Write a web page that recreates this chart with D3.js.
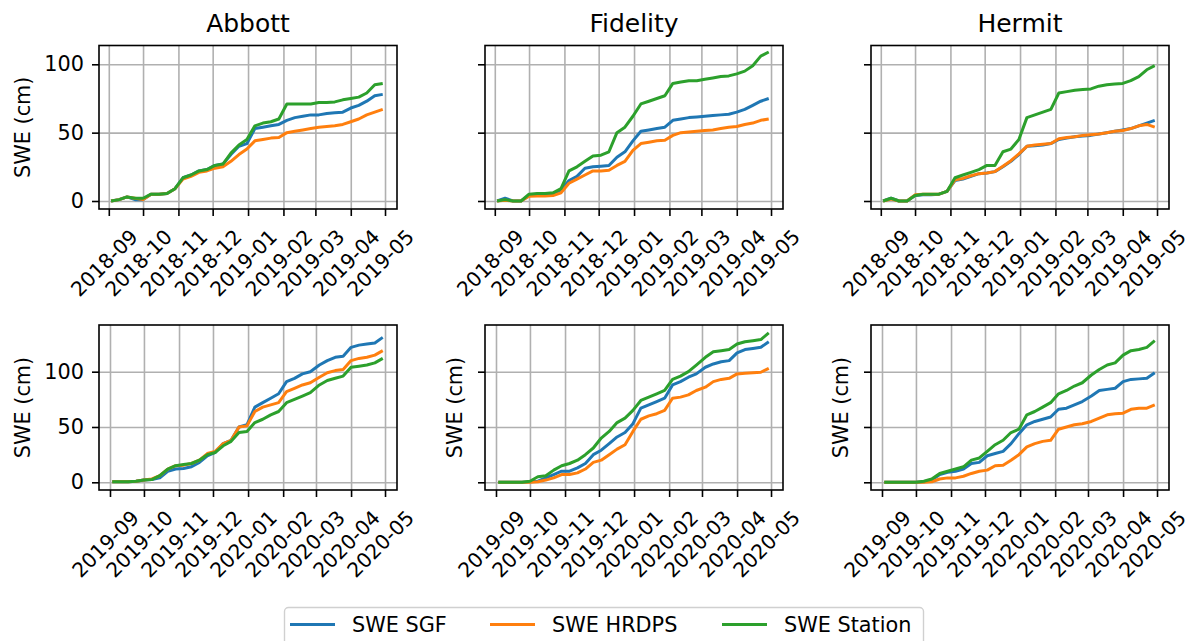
<!DOCTYPE html>
<html>
<head>
<meta charset="utf-8">
<script src="https://cdn.jsdelivr.net/npm/d3@7"></script>
<style>
  body { margin: 0; background: #fff; }
  svg { font-family: "DejaVu Sans", sans-serif; }
  .tick line { stroke: #000; stroke-width: 1.6; }
  .grid .tick line { stroke: #b0b0b0; stroke-width: 1.6; }
  .grid .domain, .axis .domain { display: none; }
</style>
</head>
<body>
<svg class="chart" width="1190" height="641"></svg>
<script>
var weeks1819 = ["2018-09-03","2018-09-10","2018-09-17","2018-09-24","2018-10-01","2018-10-08","2018-10-15",
  "2018-10-22","2018-10-29","2018-11-05","2018-11-12","2018-11-19","2018-11-26","2018-12-03","2018-12-10",
  "2018-12-17","2018-12-24","2018-12-31","2019-01-07","2019-01-14","2019-01-21","2019-01-28","2019-02-04",
  "2019-02-11","2019-02-18","2019-02-25","2019-03-04","2019-03-11","2019-03-18","2019-03-25","2019-04-01",
  "2019-04-08","2019-04-15","2019-04-22","2019-04-29"];
var weeks1920 = ["2019-09-03","2019-09-10","2019-09-17","2019-09-24","2019-10-01","2019-10-08","2019-10-15",
  "2019-10-22","2019-10-29","2019-11-05","2019-11-12","2019-11-19","2019-11-26","2019-12-03","2019-12-10",
  "2019-12-17","2019-12-24","2019-12-31","2020-01-07","2020-01-14","2020-01-21","2020-01-28","2020-02-04",
  "2020-02-11","2020-02-18","2020-02-25","2020-03-04","2020-03-11","2020-03-18","2020-03-25","2020-04-01",
  "2020-04-08","2020-04-15","2020-04-22","2020-04-29"];

var months1819 = ["2018-09","2018-10","2018-11","2018-12","2019-01","2019-02","2019-03","2019-04","2019-05"];
var months1920 = ["2019-09","2019-10","2019-11","2019-12","2020-01","2020-02","2020-03","2020-04","2020-05"];
var yTicks = [0, 50, 100];

var sites = ["Abbott", "Fidelity", "Hermit"];
var seriesNames = ["SWE SGF", "SWE HRDPS", "SWE Station"];
var seriesColours = ["#1f77b4", "#ff7f0e", "#2ca02c"];

// 2018-19 season
var abbott1819Sgf = [0,1,3,1,1,5,5,5.5,9,17,19,22,23,26,27,34,40,42,53,54,55,56,59,61,62,63,63,64,64.5,65,68,70,73,77,78];
var abbott1819Hrdps = [0,1,3,2,1,5,5,5.5,9,16,18,21,22,24,25,29,34,38,44,45,46,46.5,50,51,52,53,54,54.5,55,56,58,60,63,65,67];
var abbott1819Station = [0,1,3,2,2,5,5,5.5,9,17,19,22,23,26,27,35,41,45,55,57,58,60,71,71,71,71,72,72,72.5,74,75,76,79,85,86];

var fidelity1819Sgf = [0,2,0,0,4,4.5,4.5,5,8,15,18,24,25,25.5,26,32,36,44,51,52,53,54,59,60,61,61.5,62,62.5,63,63.5,65,67,70,73,75];
var fidelity1819Hrdps = [0,0.5,0,0,3.5,3.7,3.7,4,6,13,16,19,22,22,22.5,26,29,37,42,43,44,44.5,48,50,50.5,51,51.5,52,53,54,54.5,56,57,59,60];
var fidelity1819Station = [0,1,0,0,5,5.5,5.5,6,9,22,25,29,33,33.5,36,50,54,62,71,73,75,77,86,87,88,88,89,90,91,91.5,93,95,99,106,109];

var hermit1819Sgf = [0,2,0,0,4,4.5,4.5,5,7,15,16,18,20,20.5,21.5,25,29,34,40,40.5,41,42,45,46,47,47.5,48,49,50,51,52,53,55,57,59];
var hermit1819Hrdps = [0,1.5,0,0,4.5,5,5,5,7,15.5,16.5,18.5,20,20.5,21.5,25.5,29.5,34.5,40,41,41.5,42,45.5,46.5,47,48,48.5,49,50,51,51.5,53,55,56,54];
var hermit1819Station = [0,2,0,0,4,5,5,5,7,17,19,21,23,26,26,36,38,45,61,63,65,67,79,80,81,81.5,82,84,85,85.5,86,88,91,96,99];

// 2019-20 season
var abbott1920Sgf = [0.5,0.5,0.5,1,2,2.5,4,10,12,12.5,14,18,24,27,35,38,50,52,68,72,76,80,91,94,98,100,106,110,113,114,122,124,125,126,131];
var abbott1920Hrdps = [0.5,0.5,0.5,1,2,3,6,12,15,15.5,17,20,26,28,35,38,50,51,64,68,70,72,82,85,88,90,95,99,101,102,110,112,113,115,119];
var abbott1920Station = [0.5,0.5,0.5,1,2,2.5,6,12,15,16,17,20,25,27,33,37,45,46,54,57,61,64,72,75,78,81,88,92,94,96,104,105,106,108,112];

var fidelity1920Sgf = [0,0,0,0,0.5,1,4,7,10,10,13,17,25,29,35,41,45,53,67,70,73,76,88,91,95,98,104,107,109,110,117,120,121,122,127];
var fidelity1920Hrdps = [0,0,0,0,0,0.5,2,4,7,7,8.5,12,18,20,25,30,34,46,57,60,62,65,76,77,79,83,86,91,93,94,98,98.5,99,99.5,103];
var fidelity1920Station = [0,0,0,0,1,5,6,11,15,17,20,25,31,40,46,54,58,65,74,77,80,83,93,96,100,106,113,118,119,120,125,127,128,129,135];

var hermit1920Sgf = [0,0,0,0,0,0.5,2,7,9,10,12,17,18,24,26,28,35,44,52,55,57,59,66,67,70,73,78,83,84,85,91,93,93.5,94,99];
var hermit1920Hrdps = [0,0,0,0,0,0,0.5,3,4,4,5.5,8,10,11,15,15.5,20,25,32,35,37,38,48,50,52,53,55,58,61,62,62.5,66,67,67,70];
var hermit1920Station = [0,0,0,0,0,1,3,8,10,12,14,20,22,28,34,38,45,48,61,64,68,72,80,83,87,90,97,102,106,108,115,119,120,122,128];

var parseDay = d3.timeParse("%Y-%m-%d"),
    parseMonth = d3.timeParse("%Y-%m"),
    parseHour = d3.timeParse("%Y-%m-%d %H"),
    fmtMonth = d3.timeFormat("%Y-%m");

var panelWidth = 298,
    colLeft = [99, 485, 871],
    rows = [
      { top: 45.5, height: 163.5, weeks: weeks1819, months: months1819,
        xDomain: ["2018-08-23 10", "2019-05-11 12"], yDomain: [-5.85, 113.75],
        series: [[abbott1819Sgf, abbott1819Hrdps, abbott1819Station],
                 [fidelity1819Sgf, fidelity1819Hrdps, fidelity1819Station],
                 [hermit1819Sgf, hermit1819Hrdps, hermit1819Station]] },
      { top: 325, height: 165, weeks: weeks1920, months: months1920,
        xDomain: ["2019-08-22 07", "2020-05-11 14"], yDomain: [-6.96, 142.2],
        series: [[abbott1920Sgf, abbott1920Hrdps, abbott1920Station],
                 [fidelity1920Sgf, fidelity1920Hrdps, fidelity1920Station],
                 [hermit1920Sgf, hermit1920Hrdps, hermit1920Station]] }
    ];

var chart = d3.select(".chart");
var fontSize = "20.8px";

rows.forEach(function(row, r) {
  var xScale = d3.scaleTime()
      .domain(row.xDomain.map(parseHour))
      .range([0, panelWidth]);
  var yScale = d3.scaleLinear()
      .domain(row.yDomain)
      .range([row.height, 0]);
  var monthDates = row.months.map(parseMonth);
  var dates = row.weeks.map(parseDay);

  row.series.forEach(function(siteSeries, c) {
    var g = chart.append("g")
        .attr("transform", "translate(" + colLeft[c] + "," + row.top + ")");

    // grid
    g.append("g")
        .attr("class", "grid")
        .attr("transform", "translate(0," + row.height + ")")
        .call(d3.axisBottom(xScale).tickValues(monthDates).tickSize(-row.height).tickFormat(""));
    g.append("g")
        .attr("class", "grid")
        .call(d3.axisLeft(yScale).tickValues(yTicks).tickSize(-panelWidth).tickFormat(""));

    var line = d3.line()
        .x(function(d, i) { return xScale(dates[i]); })
        .y(function(d) { return yScale(d); });

    siteSeries.forEach(function(vals, s) {
      g.append("path")
          .datum(vals)
          .attr("fill", "none")
          .attr("stroke", seriesColours[s])
          .attr("stroke-width", 3)
          .attr("stroke-linejoin", "round")
          .attr("d", line);
    });

    g.append("rect")
        .attr("width", panelWidth)
        .attr("height", row.height)
        .attr("fill", "none")
        .attr("stroke", "#000")
        .attr("stroke-width", 1.6);

    var xAxis = g.append("g")
        .attr("class", "axis")
        .attr("transform", "translate(0," + row.height + ")")
        .call(d3.axisBottom(xScale).tickValues(monthDates).tickSize(7).tickFormat(fmtMonth));
    xAxis.attr("font-size", null).attr("font-family", null);
    xAxis.selectAll("text")
        .attr("y", null)
        .attr("dy", "0.35em")
        .attr("text-anchor", "middle")
        .attr("transform", "translate(-5,54) rotate(-45)")
        .style("font-size", "20.2px")
        .style("fill", "#000");

    var yAxis = g.append("g")
        .attr("class", "axis")
        .call(d3.axisLeft(yScale).tickValues(yTicks).tickSize(7).tickPadding(8)
          .tickFormat(c === 0 ? d3.format("d") : function() { return ""; }));
    yAxis.attr("font-size", null).attr("font-family", null);
    yAxis.selectAll("text")
        .style("font-size", fontSize)
        .style("fill", "#000");

    if (r === 0) {
      g.append("text")
          .attr("x", panelWidth / 2)
          .attr("y", -13.5)
          .attr("text-anchor", "middle")
          .style("font-size", "25px")
          .text(sites[c]);
    }

    if (c === 0 || r === 1) {
      var lx = c === 0 ? -76 : -30;
      g.append("text")
          .attr("transform", "translate(" + lx + "," + (row.height / 2) + ") rotate(-90)")
          .attr("text-anchor", "middle")
          .attr("dy", "0.35em")
          .style("font-size", fontSize)
          .text("SWE (cm)");
    }
  });
});

// legend
var legend = chart.append("g");
legend.append("rect")
    .attr("x", 284.5)
    .attr("y", 607.5)
    .attr("width", 639)
    .attr("height", 60)
    .attr("rx", 4)
    .attr("fill", "#fff")
    .attr("stroke", "#d0d0d0")
    .attr("stroke-width", 1.4);

var legendX = [290, 490, 722];
var item = legend.selectAll(".item")
    .data(seriesNames)
  .enter().append("g")
    .attr("class", "item")
    .attr("transform", function(d, i) { return "translate(" + legendX[i] + ",624.5)"; });

item.append("line")
    .attr("x1", 0)
    .attr("x2", 45)
    .attr("stroke", function(d, i) { return seriesColours[i]; })
    .attr("stroke-width", 3);

item.append("text")
    .attr("x", 62)
    .attr("dy", "0.35em")
    .style("font-size", fontSize)
    .text(function(d) { return d; });
</script>
</body>
</html>
